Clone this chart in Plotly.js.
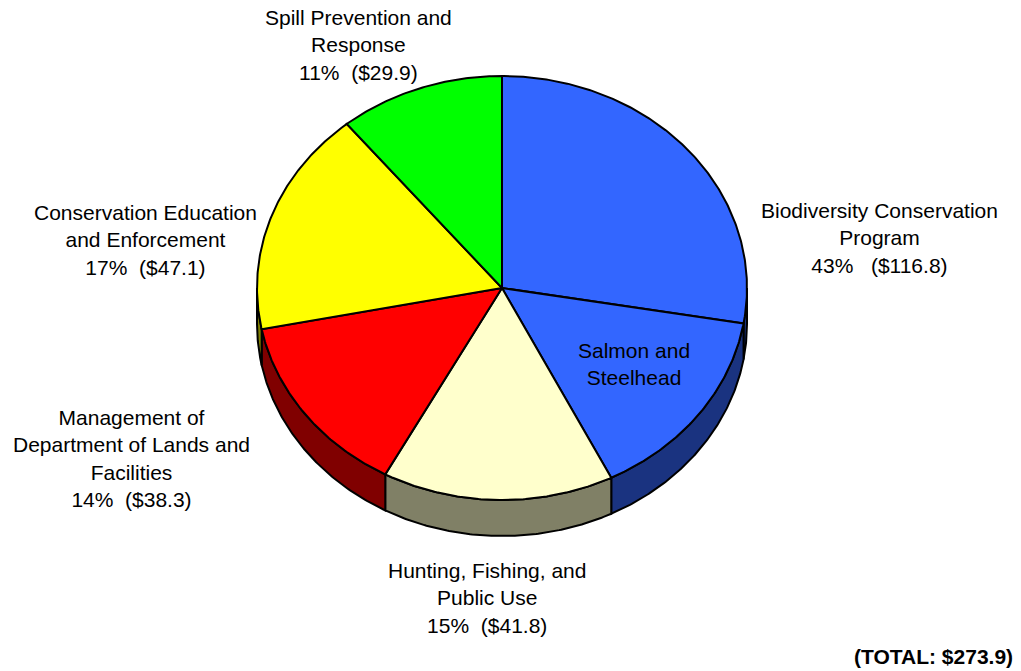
<!DOCTYPE html>
<html>
<head>
<meta charset="utf-8">
<script src="https://cdn.plot.ly/plotly-3.0.1.min.js"></script>
<style>html,body{margin:0;padding:0;background:#fff;}#chart{width:1021px;height:671px;}</style>
</head>
<body>
<div id="chart"></div>
<script>
// ---- data (US$ millions) ----
var categories = ["Biodiversity Conservation<br>Program", "Hunting, Fishing, and<br>Public Use", "Management of<br>Department of Lands and<br>Facilities", "Conservation Education<br>and Enforcement", "Spill Prevention and<br>Response"];
var values = [116.8, 41.8, 38.3, 47.1, 29.9];
var subLabel = "Salmon and<br>Steelhead";
var subValue = 41.0;   // part of Biodiversity Conservation Program
var totalLabel = "(TOTAL: $273.9)";
var pctSpacing = ["\u00A0\u00A0\u00A0", "\u00A0\u00A0", "\u00A0\u00A0", "\u00A0\u00A0", "\u00A0\u00A0"];

// ---- styles ----
var topColors = ["#3366FF", "#FFFFCC", "#FF0000", "#FFFF00", "#00FF00"];
var sideColors = ["#1A3380", "#808066", "#800000", "#808000", "#008000"];
var labelPos = [[879, 238], [487, 598], [131, 458], [145, 240], [358, 45]];
var cx = 502, cy = 288, rx = 245, ry = 212, depth = 36;

var total = values.reduce(function(a, b){ return a + b; }, 0);
function pt(deg, dy) {
  var t = deg * Math.PI / 180;
  return [cx + rx * Math.sin(t), cy - ry * Math.cos(t) + (dy || 0)];
}
function arc(a1, a2, dy) {
  var pts = [], n = Math.max(2, Math.ceil(Math.abs(a2 - a1) / 0.5));
  for (var i = 0; i <= n; i++) pts.push(pt(a1 + (a2 - a1) * i / n, dy));
  return pts;
}
function poly(pts, color) {
  return {type: "scatter", mode: "lines", x: pts.map(function(p){return p[0];}), y: pts.map(function(p){return p[1];}),
    fill: "toself", fillcolor: color, line: {color: "#000", width: 2}, hoverinfo: "skip", showlegend: false};
}

// wedge definitions: [startDeg, endDeg, colorIndex]
var wedges = [];
var acc = 0;
values.forEach(function(v, i) {
  var a1 = acc / total * 360, a2 = (acc + v) / total * 360;
  if (i === 0) {
    var split = (acc + v - subValue) / total * 360;
    wedges.push([a1, split, i]);
    wedges.push([split, a2, i]);
  } else {
    wedges.push([a1, a2, i]);
  }
  acc += v;
});

var traces = [];
// sides (visible lower half: 90..270)
wedges.forEach(function(w) {
  var s = Math.max(w[0], 90), e = Math.min(w[1], 270);
  if (e > s) {
    var pts = arc(s, e, 0).concat(arc(e, s, depth));
    pts.push(pts[0]);
    traces.push(poly(pts, sideColors[w[2]]));
  }
});
// top faces
wedges.forEach(function(w) {
  var pts = [[cx, cy]].concat(arc(w[0], w[1], 0));
  pts.push([cx, cy]);
  traces.push(poly(pts, topColors[w[2]]));
});

var font = {family: "Liberation Sans, Arial, sans-serif", size: 21, color: "#000"};
var annotations = categories.map(function(c, i) {
  var pct = Math.round(values[i] / total * 100);
  return {x: labelPos[i][0], y: labelPos[i][1], xref: "x", yref: "y", showarrow: false, align: "center",
    xanchor: "center", yanchor: "middle", font: font,
    text: c + "<br>" + pct + "%" + pctSpacing[i] + "($" + values[i].toFixed(1) + ")"};
});
annotations.push({x: 634, y: 364, xref: "x", yref: "y", showarrow: false, align: "center", xanchor: "center", yanchor: "middle", font: font, text: subLabel});
annotations.push({x: 1015, y: 656, xref: "x", yref: "y", showarrow: false, xanchor: "right", yanchor: "middle",
  font: {family: "Liberation Sans, Arial, sans-serif", size: 21, color: "#000"}, text: "<b>" + totalLabel + "</b>"});

var layout = {
  width: 1021, height: 671, margin: {l: 0, r: 0, t: 0, b: 0},
  paper_bgcolor: "#fff", plot_bgcolor: "#fff",
  xaxis: {range: [0, 1021], visible: false, fixedrange: true},
  yaxis: {range: [671, 0], visible: false, fixedrange: true},
  annotations: annotations, showlegend: false, hovermode: false
};
Plotly.newPlot("chart", traces, layout, {staticPlot: true});
</script>
</body>
</html>
